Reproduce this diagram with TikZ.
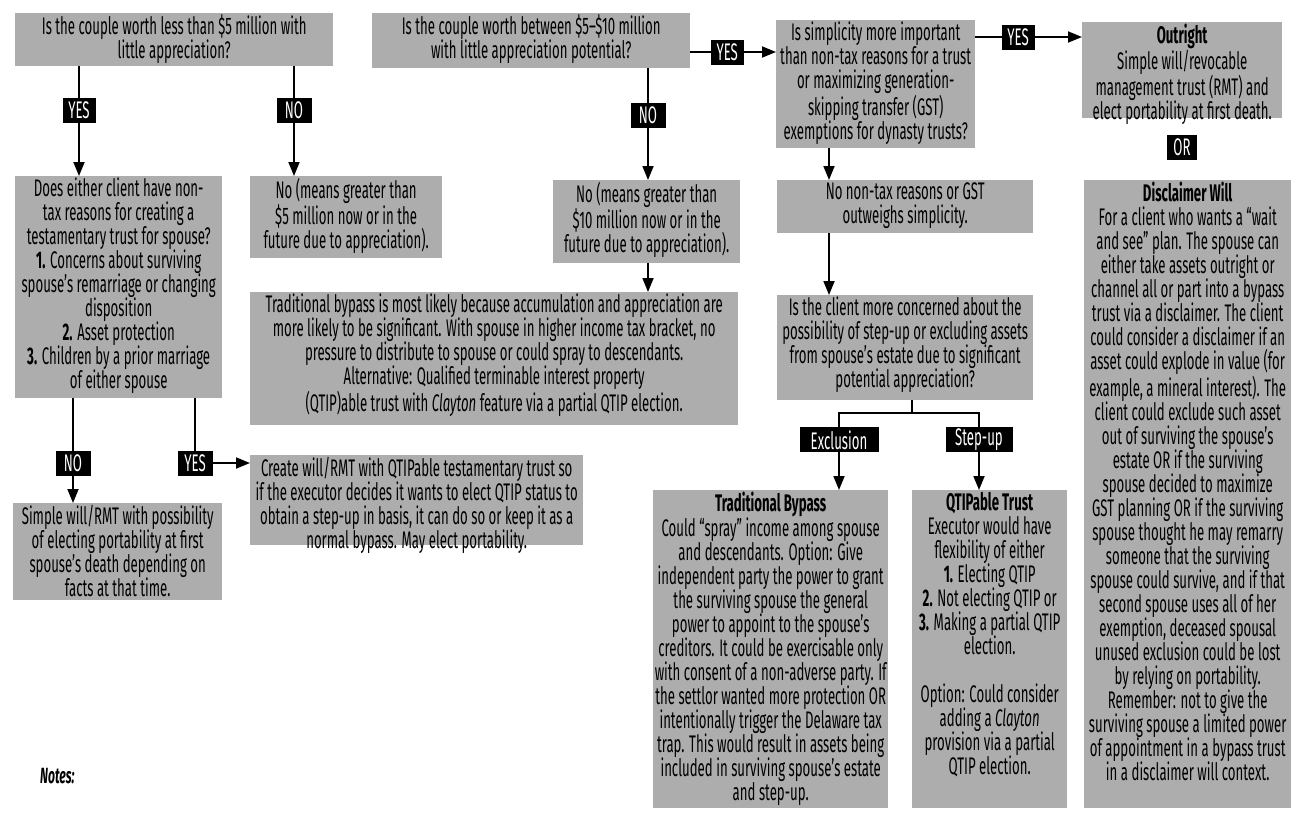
\documentclass[tikz,border=0pt]{standalone}
\usepackage{fontspec}
\setmainfont[FakeStretch=0.55]{Fira Sans}
\usetikzlibrary{arrows.meta}
\definecolor{boxgray}{gray}{0.68}
\newcommand{\bxfont}{\fontsize{24}{24}\selectfont}
\newcommand{\lbfont}{\fontsize{24}{24}\selectfont}
\begin{document}
\begin{tikzpicture}[x=1pt,y=-1pt,
  bx/.style={fill=boxgray, draw=none, inner sep=0pt, anchor=north west},
  tx/.style={anchor=north, align=center, inner sep=0pt, font=\bxfont, yshift=-2pt},
  lab/.style={fill=black, text=white, inner sep=0pt, minimum height=25pt, font=\lbfont},
  ln/.style={line width=1.8pt},
  arr/.style={ln, -{Triangle[length=14pt,width=11pt]}}]
\useasboundingbox (0,0) rectangle (1292,812);
% ---------- boxes ----------
\node[bx, minimum width=318pt, minimum height=53pt]  (q1)     at (15,13) {};
\node[bx, minimum width=318pt, minimum height=55pt]  (q2)     at (372,13) {};
\node[bx, minimum width=199pt, minimum height=128pt] (q3)     at (776,20) {};
\node[bx, minimum width=200pt, minimum height=96pt]  (outr)   at (1082,22) {};
\node[bx, minimum width=207pt, minimum height=628pt] (disc)   at (1084,180) {};
\node[bx, minimum width=207pt, minimum height=222pt] (boxa)   at (15,176) {};
\node[bx, minimum width=192pt, minimum height=82pt]  (boxb)   at (250,176) {};
\node[bx, minimum width=187pt, minimum height=83pt]  (m10)    at (553,180) {};
\node[bx, minimum width=256pt, minimum height=53pt]  (nontax) at (777,180) {};
\node[bx, minimum width=256pt, minimum height=105pt] (client) at (777,295) {};
\node[bx, minimum width=488pt, minimum height=133pt] (wide)   at (250,292) {};
\node[bx, minimum width=333pt, minimum height=90pt]  (create) at (250,455) {};
\node[bx, minimum width=209pt, minimum height=97pt]  (simple) at (13,503) {};
\node[bx, minimum width=235pt, minimum height=318pt] (trad)   at (653,490) {};
\node[bx, minimum width=155pt, minimum height=318pt] (qtip)   at (912,490) {};
% ---------- texts ----------
\node[tx] (q1t) at (q1.north) {Is the couple worth less than \$5 million with\\little appreciation?};
\node[tx] (q2t) at (q2.north) {Is the couple worth between \$5--\$10 million\\with little appreciation potential?};
\node[tx] (q3t) at (q3.north) {Is simplicity more important\\than non-tax reasons for a trust\\or maximizing generation-\\skipping transfer (GST)\\exemptions for dynasty trusts?};
\node[tx] (outrt) at (outr.north) {\textbf{Outright}\\Simple will/revocable\\management trust (RMT) and\\elect portability at first death.};
\node[tx] (disct) at (disc.north) {\textbf{Disclaimer Will}\\For a client who wants a “wait\\and see” plan. The spouse can\\either take assets outright or\\channel all or part into a bypass\\trust via a disclaimer. The client\\could consider a disclaimer if an\\asset could explode in value (for\\example, a mineral interest). The\\client could exclude such asset\\out of surviving the spouse's\\estate OR if the surviving\\spouse decided to maximize\\GST planning OR if the surviving\\spouse thought he may remarry\\someone that the surviving\\spouse could survive, and if that\\second spouse uses all of her\\exemption, deceased spousal\\unused exclusion could be lost\\by relying on portability.\\Remember: not to give the\\surviving spouse a limited power\\of appointment in a bypass trust\\in a disclaimer will context.};
\node[tx] (boxat) at (boxa.north) {Does either client have non-\\tax reasons for creating a\\testamentary trust for spouse?\\\textbf{1.} Concerns about surviving\\spouse's remarriage or changing\\disposition\\\textbf{2.} Asset protection\\\textbf{3.} Children by a prior marriage\\of either spouse};
\node[tx] (boxbt) at (boxb.north) {No (means greater than\\\$5 million now or in the\\future due to appreciation).};
\node[tx] (m10t) at (m10.north) {No (means greater than\\\$10 million now or in the\\future due to appreciation).};
\node[tx] (nontaxt) at (nontax.north) {No non-tax reasons or GST\\outweighs simplicity.};
\node[tx] (clientt) at (client.north) {Is the client more concerned about the\\possibility of step-up or excluding assets\\from spouse's estate due to significant\\potential appreciation?};
\node[tx] (widet) at (wide.north) {Traditional bypass is most likely because accumulation and appreciation are\\more likely to be significant. With spouse in higher income tax bracket, no\\pressure to distribute to spouse or could spray to descendants.\\Alternative: Qualified terminable interest property\\(QTIP)able trust with \textit{Clayton} feature via a partial QTIP election.};
\node[tx] (createt) at (create.north) {Create will/RMT with QTIPable testamentary trust so\\if the executor decides it wants to elect QTIP status to\\obtain a step-up in basis, it can do so or keep it as a\\normal bypass. May elect portability.};
\node[tx] (simplet) at (simple.north) {Simple will/RMT with possibility\\of electing portability at first\\spouse's death depending on\\facts at that time.};
\node[tx] (tradt) at (trad.north) {\textbf{Traditional Bypass}\\Could “spray” income among spouse\\and descendants. Option: Give\\independent party the power to grant\\the surviving spouse the general\\power to appoint to the spouse's\\creditors. It could be exercisable only\\with consent of a non-adverse party. If\\the settlor wanted more protection OR\\intentionally trigger the Delaware tax\\trap. This would result in assets being\\included in surviving spouse's estate\\and step-up.};
\node[tx] (qtipt) at (qtip.north) {\textbf{QTIPable Trust}\\Executor would have\\flexibility of either\\\textbf{1.} Electing QTIP\\\textbf{2.} Not electing QTIP or\\\textbf{3.} Making a partial QTIP\\election.\\[24pt]Option: Could consider\\adding a \textit{Clayton}\\provision via a partial\\QTIP election.};
\node[lab, minimum width=30pt] (orlab) at (1182,147) {OR};
\node[anchor=west, inner sep=0pt, font=\fontsize{22}{24}\selectfont\bfseries\itshape] (notes) at (40,776) {Notes:};
% ---------- coordinates ----------
\coordinate (c79) at (79,0);
\coordinate (c294) at (294,0);
\coordinate (c648) at (648,0);
\coordinate (c830) at (829,0);
\coordinate (c73) at (73,0);
\coordinate (c195) at (195,0);
\coordinate (c838) at (839,0);
\coordinate (c980) at (979,0);
\coordinate (y52) at (0,52);
\coordinate (y37) at (0,37);
\coordinate (y463) at (0,463);
\coordinate (jn) at (912,413);
% ---------- connectors ----------
\draw[arr] (q1.south -| c79) -- node[lab, pos=0.4, minimum width=33pt] (yes1) {YES} (boxa.north -| c79);
\draw[arr] (q1.south -| c294) -- node[lab, pos=0.4, minimum width=35pt] (no1) {NO} (boxb.north -| c294);
\draw[arr] (q2.south -| c648) -- node[lab, pos=0.42, minimum width=35pt] (no2) {NO} (m10.north -| c648);
\draw[arr] (q2.east |- y52) -- node[lab, pos=0.43, minimum width=33pt] (yes2) {YES} (q3.west |- y52);
\draw[arr] (q3.east |- y37) -- node[lab, pos=0.4, minimum width=33pt] (yes3) {YES} (outr.west |- y37);
\draw[arr] (m10.south -| c648) -- (wide.north -| c648);
\draw[arr] (q3.south -| c830) -- (nontax.north -| c830);
\draw[arr] (nontax.south -| c830) -- (client.north -| c830);
\draw[arr] (boxa.south -| c73) -- node[lab, pos=0.62, minimum width=35pt] (no3) {NO} (simple.north -| c73);
\draw[arr] (boxa.south -| c195) |- node[lab, pos=0.5, minimum width=35pt] (yes4) {YES} (create.west |- y463);
\draw[ln] (client.south -| jn) -- (jn);
\draw[arr] (jn) -| node[lab, pos=0.675, minimum width=79pt] (excl) {Exclusion} (trad.north -| c838);
\draw[arr] (jn) -| node[lab, pos=0.675, minimum width=67pt] (stepup) {Step-up} (qtip.north -| c980);
\end{tikzpicture}
\end{document}
